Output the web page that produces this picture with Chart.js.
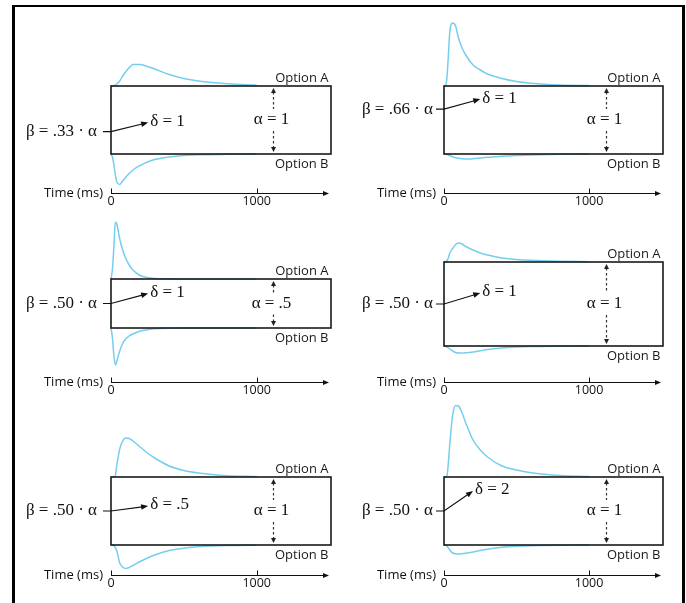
<!DOCTYPE html>
<html>
<head>
<meta charset="utf-8">
<script src="https://cdn.jsdelivr.net/npm/chart.js@4"></script>
<style>
  body { margin: 0; background: #fff; }
  #frame { position: absolute; left: 12px; top: 5px; width: 667px; height: 640px;
           border-left: 3px solid #000; border-right: 3px solid #000; border-top: 2px solid #000; }
  canvas { position: absolute; }
</style>
</head>
<body>
<div id="frame"></div>
<canvas id="p1" width="343" height="210" style="left:0;top:0"></canvas>
<canvas id="p2" width="343" height="210" style="left:343px;top:0"></canvas>
<canvas id="p3" width="343" height="190" style="left:0;top:210px"></canvas>
<canvas id="p4" width="343" height="190" style="left:343px;top:210px"></canvas>
<canvas id="p5" width="343" height="203" style="left:0;top:400px"></canvas>
<canvas id="p6" width="343" height="203" style="left:343px;top:400px"></canvas>
<script>
// sample times (ms) shared by all the RT curves
const times = [0, 10, 20, 30, 40, 60, 80, 100, 125, 150, 200, 250, 300, 400, 500, 600, 800, 1000];
const tickLabels = ['0', '1000'];
const tickValues = [0, 1000];

// curve heights above option A / below option B
const upper1 = [0, 0, 0.3, 1, 2, 5, 10, 14, 18.5, 21.5, 21.6, 19.5, 17, 11.5, 7.5, 5, 2.2, 0.7];
const lower1 = [0, 3, 11, 21, 28, 30.5, 27, 23.5, 19.5, 16, 11.5, 8, 5.5, 3, 1.5, 0.8, 0.3, 0];
const upper2 = [0, 0, 8, 30, 54, 63, 60, 48, 38, 31, 21, 16, 12, 7.5, 4.5, 2.8, 1, 0.4];
const lower2 = [0, 0, 0.5, 1, 1.8, 2.8, 3.7, 4.2, 4.7, 5, 4.7, 4, 3.3, 2.3, 1.4, 0.9, 0.3, 0];
const upper3 = [0, 10, 33, 57, 55, 40, 29, 21, 14, 9, 3.5, 1.5, 0.6, 0.2, 0, 0, 0, 0];
const lower3 = [0, 10, 28, 37, 33, 23, 15.5, 11, 8, 6, 3, 1.7, 0.8, 0.2, 0, 0, 0, 0];
const upper4 = [0, 0, 1.5, 4, 9, 13.5, 17.5, 19, 18, 15.5, 12, 9, 7, 4, 2.5, 1.7, 0.8, 0.3];
const lower4 = [0, 0.3, 1, 2, 3, 5, 6.5, 7, 7, 6.8, 6, 4.8, 3.6, 2, 1.1, 0.6, 0.2, 0];
const upper5 = [0, 0, 0.3, 1.5, 12, 28, 36, 39, 38.5, 36, 30, 24, 19, 11, 6.5, 4, 1.3, 0.4];
const lower5 = [0, 0, 1, 2.5, 6, 18, 22, 23.5, 22.5, 20.5, 16.5, 13, 10, 5.5, 3.2, 1.8, 0.6, 0.2];
const upper6 = [0, 0, 1, 14, 33, 62, 71.5, 71, 64, 54, 37, 27, 20, 11, 7, 4.3, 1.5, 0.5];
const lower6 = [0, 0, 1, 3, 5, 8, 8.8, 9, 8.8, 8.3, 7, 5.5, 4.2, 2.3, 1.3, 0.7, 0.2, 0];

const betaLabels = ['β = .33 · α', 'β = .66 · α', 'β = .50 · α', 'β = .50 · α', 'β = .50 · α', 'β = .50 · α'];
const betas = [0.33, 0.66, 0.5, 0.5, 0.5, 0.5];
const deltaLabels = ['δ = 1', 'δ = 1', 'δ = 1', 'δ = 1', 'δ = .5', 'δ = 2'];
const alphaLabels = ['α = 1', 'α = 1', 'α = .5', 'α = 1', 'α = 1', 'α = 1'];

const timeMax = 1510;
const blue = 'rgb(118, 206, 238)';

// panel layout: canvas offset, box edges, time axis (page px)
const panels = [
  { id: 'p1', cl: 0,   ct: 0,   box: [111, 331, 86, 154],  axisY: 193, gap: 14, tip: [255, 9],  up: upper1, lo: lower1 },
  { id: 'p2', cl: 343, ct: 0,   box: [444, 663, 86, 154],  axisY: 193, gap: 11, tip: [250, 10], up: upper2, lo: lower2 },
  { id: 'p3', cl: 0,   ct: 210, box: [111, 331, 279, 328], axisY: 382, gap: 14, tip: [255, 10], up: upper3, lo: lower3 },
  { id: 'p4', cl: 343, ct: 210, box: [444, 663, 262, 346], axisY: 382, gap: 11, tip: [250, 11], up: upper4, lo: lower4 },
  { id: 'p5', cl: 0,   ct: 400, box: [111, 331, 477, 545], axisY: 575, gap: 14, tip: [255, 5],  up: upper5, lo: lower5 },
  { id: 'p6', cl: 343, ct: 400, box: [444, 663, 477, 545], axisY: 575, gap: 11, tip: [200, 20], up: upper6, lo: lower6 }
];

function arrowHead(ctx, x, y, ang, len, half) {
  ctx.save();
  ctx.translate(x, y);
  ctx.rotate(ang);
  ctx.beginPath();
  ctx.moveTo(0, 0);
  ctx.lineTo(-len, -half);
  ctx.lineTo(-len, half);
  ctx.closePath();
  ctx.fill();
  ctx.restore();
}

const ddmPlugin = {
  id: 'ddm',
  afterDatasetsDraw(chart, args, o) {
    const ctx = chart.ctx;
    const xs = chart.scales.x, ys = chart.scales.y;
    const x0 = xs.getPixelForValue(0), x1 = xs.getPixelForValue(timeMax);
    const yT = ys.getPixelForValue(o.boxH), yB = ys.getPixelForValue(0);
    const ax = Math.round(ys.getPixelForValue(ys.min)) + 0.5;
    ctx.save();
    ctx.strokeStyle = '#1a1a1a';
    ctx.fillStyle = '#1a1a1a';

    // the decision box
    ctx.lineWidth = 1.6;
    ctx.strokeRect(x0, yT, x1 - x0, yB - yT);

    // option labels
    ctx.font = '13px "Open Sans"';
    ctx.textAlign = 'right';
    ctx.textBaseline = 'alphabetic';
    ctx.fillText('Option A', x1 - 2.5, yT - 4);
    ctx.fillText('Option B', x1 - 2.5, yB + 14);

    // dashed alpha arrow
    const xa = Math.round(xs.getPixelForValue(1115)) + 0.5;
    const ym = (yT + yB) / 2;
    ctx.lineWidth = 1.2;
    ctx.strokeStyle = '#333';
    ctx.fillStyle = '#222';
    ctx.setLineDash([2.5, 2.5]);
    ctx.beginPath();
    ctx.moveTo(xa, yT + 6); ctx.lineTo(xa, ym - 11);
    ctx.moveTo(xa, ym + 11); ctx.lineTo(xa, yB - 6);
    ctx.stroke();
    ctx.setLineDash([]);
    arrowHead(ctx, xa, yT + 2, -Math.PI / 2, 5, 2.5);
    arrowHead(ctx, xa, yB - 2, Math.PI / 2, 5, 2.5);
    ctx.fillStyle = '#111';
    ctx.font = '17px "Liberation Serif"';
    ctx.textAlign = 'center';
    ctx.textBaseline = 'middle';
    ctx.fillText(o.alpha, xa - 2, ym);

    // start point beta and drift arrow
    const ys0 = ys.getPixelForValue(o.beta * o.boxH);
    const tx = xs.getPixelForValue(o.tip[0]), ty = ys0 - o.tip[1];
    ctx.textAlign = 'right';
    ctx.fillText(o.betaLabel, x0 - o.gap, ys0);
    ctx.strokeStyle = '#111';
    ctx.lineWidth = 1.2;
    ctx.beginPath();
    ctx.moveTo(x0 - 8, ys0);
    ctx.lineTo(x0, ys0);
    ctx.lineTo(tx - 4, ty + (ys0 - ty) * 4 / (tx - x0));
    ctx.stroke();
    ctx.fillStyle = '#111';
    arrowHead(ctx, tx, ty, Math.atan2(ty - ys0, tx - x0), 7, 2.8);
    ctx.textAlign = 'left';
    ctx.fillText(o.delta, tx + 2, ty - 1);

    // time axis
    ctx.lineWidth = 1;
    ctx.beginPath();
    ctx.moveTo(x0, ax);
    ctx.lineTo(x1 - 6, ax);
    tickValues.forEach(v => {
      const tx2 = Math.round(xs.getPixelForValue(v)) + 0.5;
      ctx.moveTo(tx2, ax - 5);
      ctx.lineTo(tx2, ax);
    });
    ctx.stroke();
    arrowHead(ctx, x1 - 2, ax, 0, 6, 2.5);
    ctx.font = '12.5px "Open Sans"';
    ctx.textAlign = 'center';
    ctx.textBaseline = 'top';
    tickValues.forEach((v, i) => ctx.fillText(tickLabels[i], xs.getPixelForValue(v), ax + 2));
    ctx.font = '13px "Open Sans"';
    ctx.textAlign = 'right';
    ctx.textBaseline = 'middle';
    ctx.fillText('Time (ms)', x0 - 8, ax);
    ctx.restore();
  }
};

panels.forEach((p, i) => {
  const canvas = document.getElementById(p.id);
  const cw = canvas.width, ch = canvas.height;
  const [bl, br, bt, bb] = p.box;
  const boxH = bb - bt;
  const top = 2;
  new Chart(canvas.getContext('2d'), {
    type: 'line',
    data: {
      datasets: [
        { data: times.map((t, k) => ({ x: t, y: boxH + p.up[k] })) },
        { data: times.map((t, k) => ({ x: t, y: -p.lo[k] })) }
      ]
    },
    options: {
      responsive: false,
      animation: false,
      devicePixelRatio: 1,
      layout: { padding: { left: bl - p.cl, right: cw - (br - p.cl), top: top, bottom: ch - (p.axisY - p.ct) } },
      elements: {
        point: { radius: 0 },
        line: { borderColor: blue, borderWidth: 1.5, cubicInterpolationMode: 'monotone', fill: false }
      },
      datasets: { line: { clip: false } },
      scales: {
        x: { type: 'linear', min: 0, max: timeMax, display: false },
        y: { min: -(p.axisY - bb), max: bb - (p.ct + top), display: false }
      },
      plugins: {
        legend: { display: false },
        tooltip: { enabled: false },
        ddm: {
          boxH: boxH, beta: betas[i], betaLabel: betaLabels[i], delta: deltaLabels[i],
          alpha: alphaLabels[i], tip: p.tip, gap: p.gap
        }
      }
    },
    plugins: [ddmPlugin]
  });
});
</script>
</body>
</html>
